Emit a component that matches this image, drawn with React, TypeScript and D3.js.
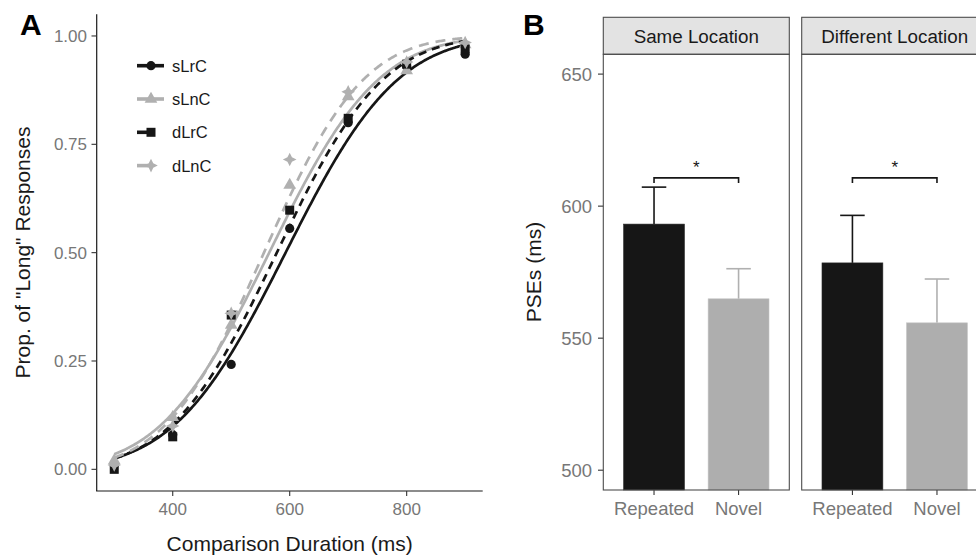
import React from "react";
import * as d3 from "d3";

// ---------- Panel A data ----------
const durations = [300, 400, 500, 600, 700, 800, 900];
const seriesNames = ["sLrC", "sLnC", "dLrC", "dLnC"];
const sLrC = [0.01, 0.08, 0.242, 0.556, 0.8, 0.93, 0.958];
const sLnC = [0.02, 0.12, 0.333, 0.656, 0.86, 0.92, 0.98];
const dLrC = [0.0, 0.075, 0.356, 0.598, 0.81, 0.935, 0.97];
const dLnC = [0.01, 0.1, 0.36, 0.715, 0.871, 0.94, 0.985];
// fitted psychometric parameters (mean = PSE, sd)
const fitMu = [593, 565, 578, 556];
const fitSigma = [150, 146, 142, 133];
const xTicksA = [400, 600, 800];
const yTicksA = [0, 0.25, 0.5, 0.75, 1.0];

// ---------- Panel B data ----------
const facets = ["Same Location", "Different Location"];
const conditions = ["Repeated", "Novel"];
const pseMeans = [
  [593.2, 564.9],
  [578.5, 555.8],
];
const pseSE = [
  [14.0, 11.4],
  [18.0, 16.6],
];
const sigLevel = [610.7, 610.7];
const yTicksB = [500, 550, 600, 650];

const FONT = "'Liberation Sans', Arial, Helvetica, sans-serif";
const BLACK = "#161616";
const GRAY = "#b0b0b0";
const TICK = "#777777";

function erf(x: number) {
  const s = x < 0 ? -1 : 1;
  const a = Math.abs(x);
  const t = 1 / (1 + 0.3275911 * a);
  const y =
    1 -
    ((((1.061405429 * t - 1.453152027) * t + 1.421413741) * t - 0.284496736) * t +
      0.254829592) *
      t *
      Math.exp(-a * a);
  return s * y;
}
const pnorm = (x: number, m: number, s: number) => 0.5 * (1 + erf((x - m) / (s * Math.SQRT2)));

const starPath = (R: number, r: number) => {
  const pts: [number, number][] = [];
  for (let i = 0; i < 8; i++) {
    const ang = (Math.PI / 4) * i - Math.PI / 2;
    const rad = i % 2 === 0 ? R : r;
    pts.push([Math.cos(ang) * rad, Math.sin(ang) * rad]);
  }
  return "M" + pts.map((p) => p.join(",")).join("L") + "Z";
};

function Marker({ kind, x, y }: { kind: number; x: number; y: number }) {
  if (kind === 0) return <circle cx={x} cy={y} r={4.6} fill={BLACK} />;
  if (kind === 1)
    return (
      <path
        transform={`translate(${x},${y})`}
        d={d3.symbol(d3.symbolTriangle, 70)() as string}
        fill={GRAY}
      />
    );
  if (kind === 2) return <rect x={x - 4.5} y={y - 4.5} width={9} height={9} fill={BLACK} />;
  return <path transform={`translate(${x},${y})`} d={starPath(6.8, 3.2)} fill={GRAY} />;
}

export default function App() {
  const series = [sLrC, sLnC, dLrC, dLnC];
  const colors = [BLACK, GRAY, BLACK, GRAY];
  const dashes = [undefined, undefined, "8,6", "10,7"];

  // Panel A scales
  const xA = d3.scaleLinear().domain([270, 930]).range([96.7, 482.7]);
  const yA = d3.scaleLinear().domain([-0.05, 1.05]).range([491, 14.3]);
  const grid = d3.range(300, 901, 2);
  const line = d3
    .line<number[]>()
    .x((d) => xA(d[0]))
    .y((d) => yA(d[1]))
    .curve(d3.curveLinear);

  // Panel B scales
  const yB = d3.scaleLinear().domain([492.5, 657.5]).range([490, 54.3]);
  const panelX = [603.3, 801.7];
  const panelW = 186;
  const xB = d3.scaleLinear().domain([0.4, 2.6]).range([0, panelW]);
  const barW = xB(1.36) - xB(1);
  const capW = xB(1.145) - xB(1);
  const stripTop = 17.3;
  const panelTop = 54.3;
  const panelBottom = 490;

  return (
    <svg
      width={976}
      height={555}
      style={{ position: "absolute", left: 0, top: 0, background: "#fff" }}
      fontFamily={FONT}
    >
      <rect x={0} y={0} width={976} height={555} fill="#fff" />
      {/* ---------- Panel A ---------- */}
      <text x={20} y={35} fontSize={30} fontWeight="bold" fill="#000">
        A
      </text>
      {/* curves */}
      {series.map((_, i) => (
        <path
          key={"c" + i}
          d={line(grid.map((g) => [g, pnorm(g, fitMu[i], fitSigma[i])])) as string}
          fill="none"
          stroke={colors[i]}
          strokeWidth={2.7}
          strokeDasharray={dashes[i]}
        />
      ))}
      {/* points */}
      {series.map((vals, i) =>
        vals.map((v, j) => <Marker key={`p${i}-${j}`} kind={i} x={xA(durations[j])} y={yA(v)} />)
      )}
      {/* axes */}
      <line x1={96.7} x2={96.7} y1={14.3} y2={491} stroke="#1a1a1a" strokeWidth={1.2} />
      <line x1={96.1} x2={482.7} y1={491} y2={491} stroke="#1a1a1a" strokeWidth={1.2} />
      {yTicksA.map((t) => (
        <g key={"ya" + t}>
          <line x1={91.5} x2={96.7} y1={yA(t)} y2={yA(t)} stroke="#333" strokeWidth={1.1} />
          <text x={87} y={yA(t)} dy="0.35em" textAnchor="end" fontSize={17} fill={TICK}>
            {d3.format(".2f")(t)}
          </text>
        </g>
      ))}
      {xTicksA.map((t) => (
        <g key={"xa" + t}>
          <line x1={xA(t)} x2={xA(t)} y1={491} y2={496} stroke="#333" strokeWidth={1.1} />
          <text x={xA(t)} y={515} textAnchor="middle" fontSize={17} fill={TICK}>
            {t}
          </text>
        </g>
      ))}
      <text x={289.7} y={551} textAnchor="middle" fontSize={21} fill="#1a1a1a">
        Comparison Duration (ms)
      </text>
      <text
        transform={`translate(30,252.5) rotate(-90)`}
        textAnchor="middle"
        fontSize={21}
        fill="#1a1a1a"
      >
        Prop. of "Long" Responses
      </text>
      {/* legend */}
      {seriesNames.map((n, i) => {
        const ly = 65.7 + i * 33.3;
        return (
          <g key={"lg" + n}>
            <line
              x1={137}
              x2={164}
              y1={ly}
              y2={ly}
              stroke={colors[i]}
              strokeWidth={3.6}
              strokeDasharray={i >= 2 ? "11,16" : undefined}
            />
            <Marker kind={i} x={151} y={ly} />
            <text x={172} y={ly} dy="0.36em" fontSize={16.5} fill="#1a1a1a">
              {n}
            </text>
          </g>
        );
      })}

      {/* ---------- Panel B ---------- */}
      <text x={523} y={35} fontSize={30} fontWeight="bold" fill="#000">
        B
      </text>
      <text
        transform={`translate(541,272) rotate(-90)`}
        textAnchor="middle"
        fontSize={21}
        fill="#1a1a1a"
      >
        PSEs (ms)
      </text>
      {yTicksB.map((t) => (
        <g key={"yb" + t}>
          <line x1={598} x2={603.3} y1={yB(t)} y2={yB(t)} stroke="#333" strokeWidth={1.1} />
          <text x={592} y={yB(t)} dy="0.36em" textAnchor="end" fontSize={18.5} fill={TICK}>
            {t}
          </text>
        </g>
      ))}
      {facets.map((f, fi) => {
        const px = panelX[fi];
        return (
          <g key={"f" + f} transform={`translate(${px},0)`}>
            {/* strip */}
            <rect
              x={0}
              y={stripTop}
              width={panelW}
              height={panelTop - stripTop}
              fill="#e3e3e3"
              stroke="#4d4d4d"
              strokeWidth={1.1}
            />
            <text x={panelW / 2} y={43} textAnchor="middle" fontSize={18.8} fill="#1a1a1a">
              {f}
            </text>
            {/* bars */}
            {conditions.map((c, ci) => {
              const cx = xB(ci + 1);
              const m = pseMeans[fi][ci];
              const se = pseSE[fi][ci];
              const col = ci === 0 ? BLACK : "#aeaeae";
              return (
                <g key={"b" + c}>
                  <line
                    x1={cx}
                    x2={cx}
                    y1={yB(m)}
                    y2={yB(m + se)}
                    stroke={ci === 0 ? BLACK : GRAY}
                    strokeWidth={1.6}
                  />
                  <line
                    x1={cx - capW}
                    x2={cx + capW}
                    y1={yB(m + se)}
                    y2={yB(m + se)}
                    stroke={ci === 0 ? BLACK : GRAY}
                    strokeWidth={1.6}
                  />
                  <rect
                    x={cx - barW}
                    y={yB(m)}
                    width={barW * 2}
                    height={panelBottom - yB(m)}
                    fill={col}
                    stroke={ci === 0 ? "#2a2a2a" : "#c4c4c4"}
                    strokeWidth={0.6}
                  />
                  <line
                    x1={cx}
                    x2={cx}
                    y1={panelBottom}
                    y2={panelBottom + 5}
                    stroke="#333"
                    strokeWidth={1.1}
                  />
                  <text x={cx} y={515} textAnchor="middle" fontSize={18.5} fill={TICK}>
                    {c}
                  </text>
                </g>
              );
            })}
            {/* significance bracket */}
            <path
              d={`M${xB(1)},${yB(sigLevel[fi]) + 5}V${yB(sigLevel[fi])}H${xB(2)}V${
                yB(sigLevel[fi]) + 5
              }`}
              fill="none"
              stroke={BLACK}
              strokeWidth={1.6}
            />
            <text
              x={(xB(1) + xB(2)) / 2}
              y={yB(sigLevel[fi]) - 5}
              textAnchor="middle"
              fontSize={17}
              fill={BLACK}
            >
              *
            </text>
            {/* panel border */}
            <rect
              x={0}
              y={panelTop}
              width={panelW}
              height={panelBottom - panelTop}
              fill="none"
              stroke="#4d4d4d"
              strokeWidth={1.1}
            />
          </g>
        );
      })}
    </svg>
  );
}
